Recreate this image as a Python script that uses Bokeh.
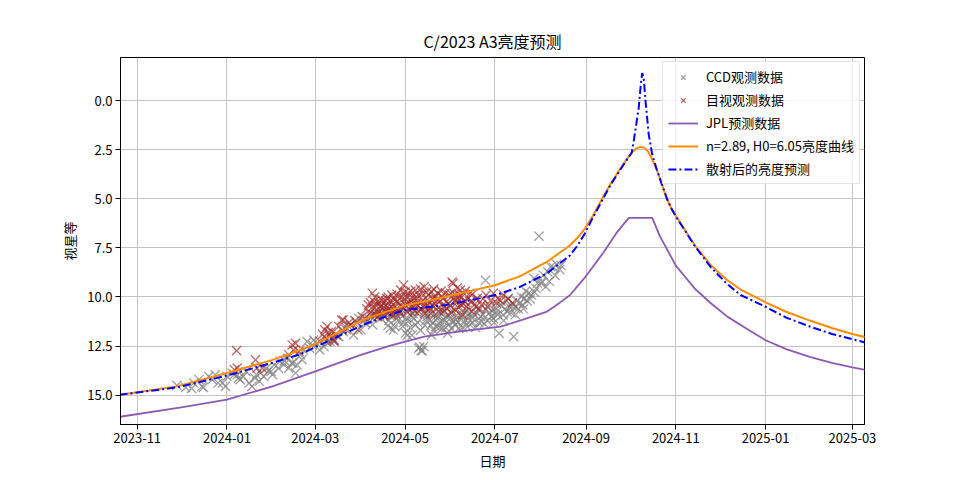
import pandas as pd
from bokeh.plotting import figure
from bokeh.models import Range1d, FixedTicker, DatetimeTickFormatter, PrintfTickFormatter, ColumnDataSource
from bokeh.embed import file_html
from bokeh.resources import INLINE

FONT = "Noto Sans CJK SC"

# ---------------- data ----------------
title_text = "C/2023 A3亮度预测"
x_label = "日期"
y_label = "视星等"
legend_labels = ["CCD观测数据", "目视观测数据", "JPL预测数据", "n=2.89, H0=6.05亮度曲线", "散射后的亮度预测"]

x_start = "2023-10-20 16:00"
x_end = "2025-03-09 05:00"
y_bottom = 16.49
y_top = -2.19

xtick_dates = ["2023-11-01", "2024-01-01", "2024-03-01", "2024-05-01", "2024-07-01",
               "2024-09-01", "2024-11-01", "2025-01-01", "2025-03-01"]
ytick_values = [0.0, 2.5, 5.0, 7.5, 10.0, 12.5, 15.0]

# observations: days since obs_base_date, magnitude
obs_base_date = "2023-11-01"
ccd_days = [27, 33, 37, 38.5, 42, 44, 45, 48.7, 51, 53, 55, 58, 60, 61, 64.5, 66, 68, 69, 70, 72, 74, 76, 78, 80,
            81, 83, 84, 86, 88, 89, 91, 92, 93, 96, 97, 99.6, 100, 102, 103, 105, 106, 107.6, 108.7, 111, 112,
            113, 115.5, 117, 119, 120, 122, 124,
            127, 129, 131, 133, 134, 136, 137, 139, 140, 142, 143.7, 145, 147, 149, 150.6, 152, 154, 155, 157,
            159, 160, 162, 163, 165.6, 167, 168, 169.5,
            171, 172, 173, 174, 174, 176, 177.6, 179, 180, 181, 182.4, 183.5, 184, 185, 186, 186.8, 188, 189,
            190, 191.3, 192, 193, 193.7, 194.7, 195, 196, 197, 198, 199, 200, 201, 202, 203, 204, 205, 206, 207,
            208, 209, 210, 211, 212, 213, 214, 215, 216, 217, 218, 219.6, 221, 222, 223, 224, 225, 226, 227.6, 229,
            231, 232, 233, 234, 235, 236.7, 237, 238, 239, 240.5, 241, 242, 243.8, 245, 246, 247, 248.6, 250, 251,
            252, 253, 254, 255.8, 256.7, 258, 259, 260, 261, 262, 263, 264, 265, 266, 268, 269.6, 271, 272, 273,
            274.5, 276, 277.7, 279, 280, 281, 283, 284, 285, 287, 288,
            170.5, 172.5, 175, 178, 180.5, 183, 185.5, 187.5, 190.5, 192.5, 195.5, 197.5, 199.5, 201.5, 203.5,
            205.5, 207.5, 209.5, 211.5, 213.5, 216.5, 218.5, 220.5, 223.5, 225.5, 228, 230, 233.5, 236, 239.5,
            242.5, 244.5, 249, 251.5, 254.5, 257, 262.5, 267, 270, 275]
ccd_mag = [14.50, 14.60, 14.65, 14.38, 14.20, 14.55, 14.60, 14.04, 14.21, 13.96, 14.38, 14.37, 14.55, 14.04, 13.87,
           13.95, 13.96, 14.12, 14.21, 14.04, 13.80, 14.38, 14.55, 14.13, 13.95, 14.29, 13.87, 14.04, 13.62, 13.78,
           13.79, 13.95, 13.45, 13.62, 13.28, 13.45, 13.24, 13.12, 13.62, 13.37, 13.36, 13.87, 13.45, 12.95, 13.19,
           12.70, 12.27, 12.60, 12.44, 12.19, 12.36, 12.69,
           12.52, 12.30, 12.26, 12.10, 12.18, 12.00, 12.01, 11.70, 11.76, 11.55, 11.50, 11.43, 11.93, 11.30, 11.09,
           11.67, 11.20, 11.33, 11.08, 11.00, 11.42, 10.95, 10.83, 11.08, 10.90, 11.00, 10.74,
           11.20, 11.59, 10.80, 10.91, 11.68, 11.10, 11.17, 10.90, 10.66, 11.30, 11.84, 11.94, 11.25, 10.70, 10.95,
           11.94, 11.10, 11.42, 10.80, 12.61, 12.55, 12.72, 12.74, 12.52, 10.74, 11.20, 11.00, 11.17, 10.60, 11.93,
           11.30, 10.91, 11.50, 11.10, 11.33, 10.80, 11.60, 10.74, 11.20, 11.00, 11.84, 11.40, 11.08, 10.70, 11.25,
           11.42, 10.95, 11.30, 10.91, 11.55, 11.25, 10.80, 10.66, 11.10, 11.40, 11.08, 10.90,
           10.83, 11.30, 10.60, 11.25, 10.90, 9.15, 10.66, 11.20, 10.40, 11.00, 10.70, 11.10, 10.57, 10.90, 11.85,
           10.40, 10.91, 10.60, 10.20, 10.07, 10.50, 10.80, 12.02, 10.49, 10.20, 10.60, 10.32, 10.00, 10.40, 10.07,
           9.70, 10.20, 9.81, 9.90, 9.05, 9.56, 9.30, 6.90, 9.31, 8.89, 9.48, 8.72, 9.20, 8.46, 8.51, 8.90, 8.34,
           8.60, 8.40,
           11.45, 11.00, 11.50, 10.75, 11.50, 11.05, 11.55, 10.85, 11.30, 11.70, 11.45, 10.85, 11.45, 11.70, 10.95,
           11.55, 11.20, 11.55, 10.90, 11.60, 11.15, 11.60, 11.00, 11.45, 10.85, 11.30, 11.55, 11.00, 11.35, 10.80,
           11.30, 10.75, 11.20, 10.75, 10.45, 10.90, 10.60, 10.10, 9.75, 9.20]

vis_days = [66, 67.5, 68, 80.4, 81.5, 85, 103, 105.3, 106.4, 107.6, 110,
            124, 126, 127.5, 128, 129, 130, 131, 132, 133, 134, 135, 137, 139, 140, 142, 144, 145, 148, 150, 153,
            155, 156, 157, 158, 159.8, 160, 161, 162, 163, 164, 164.7, 165, 166, 167, 168, 169, 169.5, 170, 171,
            172, 172.7, 173, 174, 175, 176, 177, 177.6, 178, 179, 179.5, 180, 181, 181.5, 182.4, 183, 184, 184.5,
            185, 185.7, 186, 187, 188, 189, 189.5, 190.5, 191, 192, 193, 193.7, 194, 195, 196, 197, 198, 198.6,
            199, 200, 201, 202, 203, 204, 205, 206, 207, 208, 209, 210, 211.5, 212, 213, 214, 214.7, 215, 216, 217,
            218, 219, 219.6, 220, 221, 222, 222.8, 224, 226, 227, 227.6, 229, 231, 232, 234, 235, 237, 238, 240,
            242, 244, 245, 247, 249, 252, 255,
            158.5, 160.5, 161.5, 162.5, 163.5, 165.5, 166.5, 167.5, 168.5, 170.5, 171.5, 173.5, 174.5, 175.5,
            176.5, 178.5, 180.5, 182, 183.5, 186.5, 187.5, 188.5, 190, 191.5, 192.5, 194.5, 195.5, 196.5, 197.5,
            199.5, 200.5, 201.5, 203.5, 204.5, 206.5, 208.5, 209.5, 210.5, 212.5, 213.5, 215.5, 216.5, 217.5,
            218.5, 220.5, 221.5, 223, 225, 228, 230]
vis_mag = [13.70, 12.73, 13.62, 13.20, 13.62, 13.62, 12.94, 12.44, 12.70, 12.36, 12.77,
           12.26, 11.90, 11.67, 12.10, 11.50, 11.80, 12.01, 11.76, 12.20, 12.26, 11.90, 11.50, 11.18, 11.17, 11.67,
           11.30, 11.42, 11.20, 11.67, 11.00, 11.08, 10.60, 10.40, 10.83, 9.81, 10.50, 10.24, 10.90, 10.66, 10.30,
           10.91, 10.10, 10.40, 10.60, 10.74, 10.20, 10.07, 10.50, 10.57, 10.20, 10.91, 9.90, 10.40, 10.70, 10.24,
           10.00, 10.66, 10.30, 9.65, 10.45, 9.98, 9.39, 10.20, 10.40, 10.00, 9.81, 10.60, 10.30, 10.15, 9.70,
           10.57, 10.10, 9.65, 10.35, 10.07, 9.90, 10.32, 10.60, 9.81, 10.20, 9.48, 10.50, 10.15, 9.90, 10.57,
           10.30, 9.73, 10.10, 9.98, 10.40, 9.80, 10.74, 10.20, 9.95, 10.07, 10.50, 10.25, 10.32, 9.90, 9.81, 9.24,
           9.31, 10.10, 10.66, 10.30, 10.07, 9.90, 9.65, 10.40, 10.91, 10.20, 10.24, 10.50, 9.81, 10.20, 10.74,
           10.40, 10.07, 10.60, 10.40, 10.10, 9.90, 10.50, 10.20, 9.81, 10.30, 10.07, 10.20, 9.90, 10.10, 10.30,
           10.30, 10.90, 10.00, 10.45, 11.00, 10.50, 10.15, 10.95, 10.45, 10.00, 10.75, 10.55, 10.10, 10.85,
           9.85, 10.80, 10.55, 9.75, 10.75, 10.45, 9.95, 10.70, 10.50, 10.75, 9.60, 10.45, 10.85, 9.75, 10.40,
           10.85, 10.45, 9.60, 10.15, 10.55, 9.70, 10.70, 9.80, 10.60, 10.45, 10.80, 9.85, 10.15, 9.55,
           10.55, 10.00, 10.35, 9.70, 10.05, 9.85, 10.50]

jpl_dates = ["2023-10-20", "2023-12-01", "2024-01-01", "2024-02-01", "2024-03-01", "2024-04-01", "2024-04-21",
             "2024-05-14", "2024-06-05", "2024-07-05", "2024-07-18", "2024-08-05", "2024-08-14", "2024-08-21",
             "2024-08-31", "2024-09-13", "2024-09-22", "2024-09-30", "2024-10-16", "2024-10-21", "2024-11-01",
             "2024-11-14", "2024-11-25", "2024-12-06", "2024-12-20", "2025-01-01", "2025-01-15", "2025-01-31",
             "2025-02-15", "2025-03-01", "2025-03-10"]
jpl_mag = [16.10, 15.62, 15.22, 14.55, 13.79, 12.95, 12.47, 12.02, 11.77, 11.51, 11.20, 10.76, 10.30, 9.91, 9.03,
           7.72, 6.71, 5.97, 5.97, 6.88, 8.40, 9.58, 10.33, 11.00, 11.65, 12.20, 12.65, 13.05, 13.35, 13.58, 13.72]

fit_dates = ["2023-10-20", "2023-11-28", "2024-01-01", "2024-02-01", "2024-02-20", "2024-03-01", "2024-03-18",
             "2024-04-05", "2024-04-21", "2024-04-30", "2024-05-18", "2024-05-28", "2024-06-14", "2024-07-01",
             "2024-07-18", "2024-08-05", "2024-08-21", "2024-08-26", "2024-08-31", "2024-09-05", "2024-09-09",
             "2024-09-13", "2024-09-18", "2024-09-24", "2024-09-28", "2024-10-02", "2024-10-05", "2024-10-08",
             "2024-10-11", "2024-10-13", "2024-10-16", "2024-10-19", "2024-10-22", "2024-10-26", "2024-10-29",
             "2024-11-01", "2024-11-14", "2024-11-25", "2024-12-06", "2024-12-15", "2025-01-01", "2025-01-15",
             "2025-01-31", "2025-02-15", "2025-03-01", "2025-03-10"]
fit_mag = [14.98, 14.55, 13.87, 13.20, 12.70, 12.40, 11.75, 11.09, 10.68, 10.45, 10.17, 10.00, 9.70, 9.40, 8.95,
           8.23, 7.38, 7.00, 6.54, 5.95, 5.40, 4.85, 4.20, 3.50, 3.05, 2.66, 2.45, 2.36, 2.42, 2.58, 3.00, 3.50,
           4.15, 5.02, 5.50, 5.87, 7.38, 8.40, 9.15, 9.62, 10.27, 10.75, 11.20, 11.58, 11.88, 12.05]

scat_dates = ["2023-10-20", "2023-11-28", "2024-01-01", "2024-02-01", "2024-02-20", "2024-03-01", "2024-03-18",
              "2024-04-05", "2024-04-30", "2024-05-18", "2024-05-28", "2024-06-14", "2024-07-01", "2024-07-18",
              "2024-08-05", "2024-08-21", "2024-08-26", "2024-08-31", "2024-09-05", "2024-09-09", "2024-09-13",
              "2024-09-18", "2024-09-24", "2024-09-28", "2024-10-02", "2024-10-03 10:00", "2024-10-06 19:00",
              "2024-10-08 00:00", "2024-10-09 03:00", "2024-10-10 05:00", "2024-10-11 10:00", "2024-10-13 14:00",
              "2024-10-15 22:00", "2024-10-19", "2024-10-22", "2024-10-26", "2024-10-29", "2024-11-01",
              "2024-11-14", "2024-11-25", "2024-12-06", "2024-12-15", "2025-01-01", "2025-01-15", "2025-01-31",
              "2025-02-15", "2025-03-01", "2025-03-10"]
scat_mag = [14.98, 14.60, 14.00, 13.35, 12.91, 12.55, 11.95, 11.35, 10.67, 10.50, 10.42, 10.17, 9.91, 9.49, 8.82,
            7.89, 7.40, 6.79, 6.05, 5.50, 4.93, 4.25, 3.55, 3.10, 2.66, 2.06, 0.37, -0.64, -1.40, -1.15, 0.03,
            1.72, 2.73, 3.50, 4.15, 5.00, 5.50, 5.90, 7.42, 8.50, 9.35, 9.90, 10.50, 11.05, 11.50, 11.88, 12.15,
            12.32]

# ---------------- figure ----------------
base = pd.Timestamp(obs_base_date)
ccd_src = ColumnDataSource(dict(x=base + pd.to_timedelta(ccd_days, unit="D"), y=ccd_mag))
vis_src = ColumnDataSource(dict(x=base + pd.to_timedelta(vis_days, unit="D"), y=vis_mag))
jpl_src = ColumnDataSource(dict(x=pd.to_datetime(jpl_dates, format="mixed"), y=jpl_mag))
fit_src = ColumnDataSource(dict(x=pd.to_datetime(fit_dates, format="mixed"), y=fit_mag))
scat_src = ColumnDataSource(dict(x=pd.to_datetime(scat_dates, format="mixed"), y=scat_mag))

p = figure(width=952, height=472, x_axis_type="datetime", output_backend="svg", toolbar_location=None,
           x_range=Range1d(pd.Timestamp(x_start), pd.Timestamp(x_end)),
           y_range=Range1d(y_bottom, y_top),
           min_border_left=120, min_border_right=88, min_border_top=57, min_border_bottom=45,
           title=title_text)

p.scatter("x", "y", source=ccd_src, marker="x", size=13, line_color="gray", line_alpha=0.75,
          line_width=1.3, legend_label=legend_labels[0])
p.scatter("x", "y", source=vis_src, marker="x", size=13, line_color="brown", line_alpha=0.7,
          line_width=1.3, legend_label=legend_labels[1])
p.line("x", "y", source=jpl_src, line_color="#8c5ab4", line_width=1.8, legend_label=legend_labels[2])
p.line("x", "y", source=fit_src, line_color="darkorange", line_width=2, legend_label=legend_labels[3])
p.line("x", "y", source=scat_src, line_color="blue", line_width=2, line_dash="8 3 2 3",
       legend_label=legend_labels[4])

# title
p.title.align = "center"
p.title.text_font = FONT
p.title.text_font_size = "16px"
p.title.text_font_style = "normal"
p.title.text_color = "black"

# axes
p.xaxis.ticker = FixedTicker(ticks=[pd.Timestamp(d).value // 10**6 for d in xtick_dates])
fmt = "%Y-%m"
p.xaxis.formatter = DatetimeTickFormatter(milliseconds=fmt, seconds=fmt, minsec=fmt, minutes=fmt, hourmin=fmt,
                                          hours=fmt, days=fmt, months=fmt, years=fmt)
p.yaxis.ticker = FixedTicker(ticks=ytick_values)
p.yaxis.formatter = PrintfTickFormatter(format="%.1f")
p.xaxis.axis_label = x_label
p.yaxis.axis_label = y_label
for ax in (p.xaxis, p.yaxis):
    ax.major_label_text_font = FONT
    ax.major_label_text_font_size = "13px"
    ax.major_label_text_color = "black"
    ax.axis_label_text_font = FONT
    ax.axis_label_text_font_size = "13px"
    ax.axis_label_text_font_style = "normal"
    ax.axis_label_text_color = "black"
    ax.axis_label_standoff = 5
    ax.major_label_standoff = 3
    ax.major_tick_out = 5
    ax.major_tick_in = 0
    ax.minor_tick_out = 0
    ax.minor_tick_in = 0
    ax.axis_line_color = "black"
    ax.major_tick_line_color = "black"

p.grid.grid_line_color = "#c4c4c4"
p.grid.grid_line_width = 1
p.outline_line_color = "black"
p.outline_line_width = 1
p.background_fill_color = "white"
p.border_fill_color = "white"

# legend
p.legend.location = "top_right"
p.legend.margin = 4
p.legend.padding = 5
p.legend.spacing = 4
p.legend.label_height = 16
p.legend.glyph_height = 16
p.legend.glyph_width = 30
p.legend.label_standoff = 8
p.legend.label_text_font = FONT
p.legend.label_text_font_size = "13px"
p.legend.label_text_color = "black"
p.legend.background_fill_alpha = 0.8
p.legend.border_line_color = "#cccccc"
p.legend.border_line_width = 1

open("out.html", "w").write(file_html(p, INLINE))
